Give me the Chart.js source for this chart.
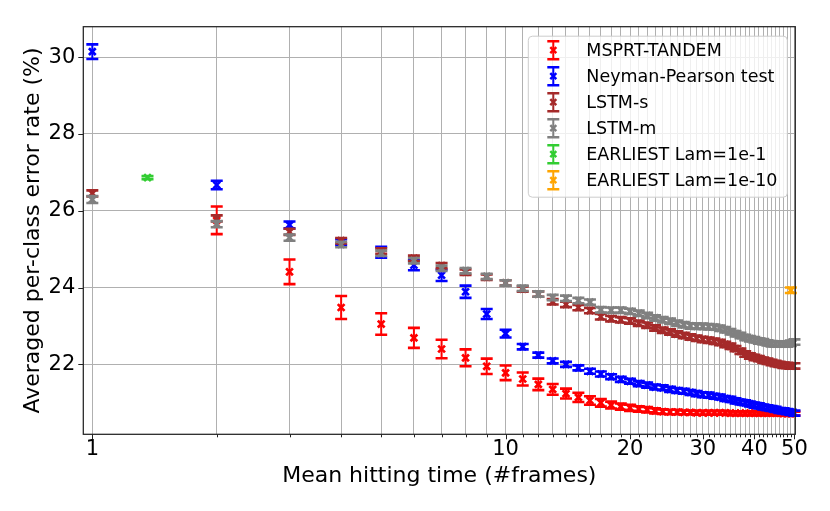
<!DOCTYPE html>
<html>
<head>
<meta charset="utf-8">
<script src="https://cdn.jsdelivr.net/npm/chart.js@4.4.0/dist/chart.umd.min.js"></script>
<style>
  html, body { margin: 0; padding: 0; background: #fff; }
  #wrap { width: 830px; height: 511px; }
</style>
</head>
<body>
<div id="wrap"><canvas id="chart" width="830" height="511"></canvas></div>
<script>
// mean hitting time (#frames)
const frames = [1, 2, 3, 4, 5, 6, 7, 8, 9, 10, 11, 12, 13, 14, 15, 16, 17, 18, 19, 20,
  21, 22, 23, 24, 25, 26, 27, 28, 29, 30, 31, 32, 33, 34, 35, 36, 37, 38, 39, 40,
  41, 42, 43, 44, 45, 46, 47, 48, 49, 50];
const tandemFrames = frames.slice(1);
const xLabels = [1, 10, 20, 30, 40, 50];
const yTicks = [22, 24, 26, 28, 30];

// MSPRT-TANDEM (starts at 2 frames)
const tandemMean = [25.75, 24.41, 23.48, 23.05, 22.69, 22.40, 22.17, 21.95, 21.78,
  21.62, 21.48, 21.35, 21.24, 21.14, 21.06, 21.00, 20.94, 20.90, 20.87,
  20.84, 20.82, 20.79, 20.77, 20.76, 20.76, 20.75, 20.75, 20.74, 20.74,
  20.74, 20.74, 20.74, 20.74, 20.73, 20.73, 20.73, 20.73, 20.73, 20.73,
  20.73, 20.73, 20.73, 20.73, 20.73, 20.73, 20.72, 20.72, 20.72, 20.72];
const tandemErr = [0.36, 0.32, 0.30, 0.28, 0.26, 0.24, 0.22, 0.20, 0.19,
  0.17, 0.15, 0.14, 0.13, 0.12, 0.11, 0.10, 0.09, 0.08, 0.08,
  0.07, 0.07, 0.07, 0.06, 0.06, 0.06, 0.05, 0.05, 0.05, 0.05,
  0.05, 0.05, 0.05, 0.05, 0.05, 0.05, 0.05, 0.05, 0.05, 0.05,
  0.05, 0.05, 0.05, 0.05, 0.05, 0.05, 0.05, 0.05, 0.05, 0.05];

// Neyman-Pearson test
const npMean = [30.14, 26.67, 25.63, 25.18, 24.92, 24.58, 24.32, 23.89, 23.31, 22.80,
  22.46, 22.24, 22.09, 22.00, 21.91, 21.82, 21.75, 21.68, 21.61, 21.56,
  21.50, 21.46, 21.41, 21.39, 21.35, 21.32, 21.30, 21.27, 21.24, 21.21,
  21.20, 21.17, 21.15, 21.11, 21.09, 21.05, 21.02, 21.00, 20.97, 20.94,
  20.92, 20.89, 20.87, 20.85, 20.83, 20.80, 20.79, 20.77, 20.75, 20.73];
const npErr = [0.19, 0.11, 0.09, 0.08, 0.14, 0.13, 0.15, 0.16, 0.13, 0.10,
  0.07, 0.065, 0.065, 0.065, 0.065, 0.065, 0.065, 0.065, 0.065, 0.065,
  0.065, 0.065, 0.065, 0.065, 0.065, 0.065, 0.065, 0.065, 0.065, 0.065,
  0.065, 0.065, 0.065, 0.065, 0.065, 0.065, 0.065, 0.065, 0.065, 0.065,
  0.065, 0.065, 0.065, 0.065, 0.065, 0.065, 0.065, 0.065, 0.065, 0.065];

// LSTM-s
const lstmSMean = [26.45, 25.80, 25.45, 25.22, 24.95, 24.76, 24.57, 24.40, 24.27, 24.12,
  23.96, 23.83, 23.63, 23.56, 23.48, 23.40, 23.24, 23.19, 23.16, 23.13,
  23.07, 23.02, 22.95, 22.89, 22.84, 22.79, 22.75, 22.71, 22.68, 22.65,
  22.63, 22.60, 22.57, 22.52, 22.47, 22.41, 22.34, 22.27, 22.22, 22.18,
  22.15, 22.11, 22.08, 22.05, 22.02, 22.00, 21.98, 21.97, 21.96, 21.96];
const lstmSErr = [0.08, 0.08, 0.08, 0.07, 0.07, 0.07, 0.07, 0.07, 0.07, 0.07,
  0.07, 0.07, 0.07, 0.07, 0.07, 0.07, 0.07, 0.07, 0.07, 0.07,
  0.07, 0.07, 0.07, 0.07, 0.07, 0.07, 0.07, 0.07, 0.07, 0.07,
  0.07, 0.07, 0.07, 0.07, 0.07, 0.07, 0.07, 0.07, 0.07, 0.07,
  0.07, 0.07, 0.07, 0.07, 0.07, 0.07, 0.07, 0.07, 0.07, 0.07];

// LSTM-m
const lstmMMean = [26.29, 25.65, 25.30, 25.12, 24.89, 24.70, 24.50, 24.44, 24.29, 24.12,
  23.98, 23.83, 23.74, 23.72, 23.66, 23.62, 23.42, 23.41, 23.41, 23.38,
  23.33, 23.27, 23.21, 23.16, 23.12, 23.07, 23.03, 23.00, 22.99, 22.99,
  22.98, 22.97, 22.94, 22.90, 22.85, 22.80, 22.75, 22.70, 22.67, 22.64,
  22.61, 22.59, 22.56, 22.54, 22.53, 22.53, 22.53, 22.53, 22.55, 22.58];
const lstmMErr = [0.09, 0.08, 0.08, 0.07, 0.07, 0.07, 0.07, 0.07, 0.07, 0.07,
  0.07, 0.07, 0.07, 0.07, 0.07, 0.07, 0.07, 0.07, 0.07, 0.07,
  0.07, 0.07, 0.07, 0.07, 0.07, 0.07, 0.07, 0.07, 0.07, 0.07,
  0.07, 0.07, 0.07, 0.07, 0.07, 0.07, 0.07, 0.07, 0.07, 0.07,
  0.07, 0.07, 0.07, 0.07, 0.07, 0.07, 0.07, 0.07, 0.07, 0.07];

// EARLIEST
const earliest1Frames = [1.36];
const earliest1Mean = [26.86];
const earliest1Err = [0.04];
const earliest10Frames = [49];
const earliest10Mean = [23.93];
const earliest10Err = [0.07];

const series = [
  { label: 'MSPRT-TANDEM', color: '#ff0000', xs: tandemFrames, ys: tandemMean, err: tandemErr },
  { label: 'Neyman-Pearson test', color: '#0000ff', xs: frames, ys: npMean, err: npErr },
  { label: 'LSTM-s', color: '#a52a2a', xs: frames, ys: lstmSMean, err: lstmSErr },
  { label: 'LSTM-m', color: '#808080', xs: frames, ys: lstmMMean, err: lstmMErr },
  { label: 'EARLIEST Lam=1e-1', color: '#32cd32', xs: earliest1Frames, ys: earliest1Mean, err: earliest1Err },
  { label: 'EARLIEST Lam=1e-10', color: '#ffa500', xs: earliest10Frames, ys: earliest10Mean, err: earliest10Err }
];

const FONT = 'DejaVu Sans';
const GRID = '#b0b0b0';
const INK = '#222';
const CAP = 6;

Chart.defaults.font.family = FONT;
Chart.defaults.color = '#000';

// error bars are drawn right before each dataset so later series sit on top
const errorBars = {
  id: 'errorBars',
  beforeDatasetDraw(chart, args) {
    const ds = chart.data.datasets[args.index];
    const xs = chart.scales.x, ys = chart.scales.y;
    const ctx = chart.ctx;
    ctx.save();
    ctx.strokeStyle = ds.borderColor;
    ds.data.forEach((p, i) => {
      const px = xs.getPixelForValue(p.x);
      const top = ys.getPixelForValue(p.y + ds.errors[i]);
      const bot = ys.getPixelForValue(p.y - ds.errors[i]);
      ctx.lineWidth = 2;
      ctx.beginPath();
      ctx.moveTo(px, top); ctx.lineTo(px, bot);
      ctx.stroke();
      ctx.lineWidth = 2.6;
      ctx.beginPath();
      ctx.moveTo(px - CAP, top); ctx.lineTo(px + CAP, top);
      ctx.moveTo(px - CAP, bot); ctx.lineTo(px + CAP, bot);
      ctx.stroke();
    });
    ctx.restore();
  }
};

// axes frame and tick marks (matplotlib style)
const frameTicks = {
  id: 'frameTicks',
  afterDatasetsDraw(chart) {
    const { ctx, chartArea: a } = chart;
    const xs = chart.scales.x, ys = chart.scales.y;
    ctx.save();
    ctx.strokeStyle = INK;
    ctx.lineWidth = 1;
    ctx.beginPath();
    frames.forEach(v => {
      const px = Math.round(xs.getPixelForValue(v)) + 0.5;
      const len = xLabels.includes(v) ? 5 : 3;
      ctx.moveTo(px, a.bottom); ctx.lineTo(px, a.bottom + len);
    });
    yTicks.forEach(v => {
      const py = Math.round(ys.getPixelForValue(v)) + 0.5;
      ctx.moveTo(a.left - 5, py); ctx.lineTo(a.left, py);
    });
    ctx.stroke();
    ctx.lineWidth = 1.25;
    ctx.strokeRect(a.left, a.top, a.right - a.left, a.bottom - a.top);
    ctx.restore();
  }
};

const legendBox = {
  id: 'legendBox',
  afterDraw(chart) {
    const { ctx, chartArea: a } = chart;
    const w = 259, h = 161;
    const x0 = a.right - 8 - w, y0 = a.top + 9.5;
    ctx.save();
    ctx.beginPath();
    if (ctx.roundRect) ctx.roundRect(x0, y0, w, h, 4); else ctx.rect(x0, y0, w, h);
    ctx.fillStyle = 'rgba(255,255,255,0.8)';
    ctx.fill();
    ctx.strokeStyle = '#cccccc';
    ctx.lineWidth = 1;
    ctx.stroke();
    ctx.font = '17.5px "' + FONT + '"';
    ctx.textBaseline = 'middle';
    ctx.textAlign = 'left';
    series.forEach((s, i) => {
      const cy = y0 + 14 + i * 26;
      const cx = x0 + 25;
      ctx.strokeStyle = s.color;
      ctx.lineWidth = 2;
      ctx.beginPath();
      ctx.moveTo(cx, cy - 9); ctx.lineTo(cx, cy + 9);
      ctx.stroke();
      ctx.lineWidth = 2.6;
      ctx.beginPath();
      ctx.moveTo(cx - CAP, cy - 9); ctx.lineTo(cx + CAP, cy - 9);
      ctx.moveTo(cx - CAP, cy + 9); ctx.lineTo(cx + CAP, cy + 9);
      ctx.stroke();
      ctx.lineWidth = 2.5;
      ctx.beginPath();
      ctx.moveTo(cx - 3, cy - 3); ctx.lineTo(cx + 3, cy + 3);
      ctx.moveTo(cx + 3, cy - 3); ctx.lineTo(cx - 3, cy + 3);
      ctx.stroke();
      ctx.fillStyle = '#000';
      ctx.fillText(s.label, x0 + 58, cy + 1);
    });
    ctx.restore();
  }
};

new Chart(document.getElementById('chart'), {
  type: 'scatter',
  data: {
    datasets: series.map((s, i) => ({
      label: s.label,
      data: s.xs.map((x, j) => ({ x: x, y: s.ys[j] })),
      errors: s.err,
      order: series.length - i,
      borderColor: s.color,
      backgroundColor: s.color,
      pointStyle: 'crossRot',
      pointRadius: 4.8,
      pointBorderWidth: 2.7,
      pointHoverRadius: 4.8
    }))
  },
  options: {
    responsive: false,
    animation: false,
    events: [],
    layout: { padding: { top: 26.7, right: 34.7, left: 0, bottom: 0 } },
    plugins: { legend: { display: false }, tooltip: { enabled: false } },
    scales: {
      x: {
        type: 'logarithmic',
        min: 0.951,
        max: 50.23,
        afterBuildTicks(scale) { scale.ticks = frames.map(v => ({ value: v })); },
        afterFit(scale) { scale.height = 76.7; },
        ticks: {
          autoSkip: false, minRotation: 0, maxRotation: 0, padding: 3,
          font: { size: 21 }, color: '#000',
          callback: v => (xLabels.includes(v) ? String(v) : '')
        },
        grid: { color: GRID, lineWidth: 1, drawTicks: false },
        border: { display: false },
        title: {
          display: true, text: 'Mean hitting time (#frames)',
          font: { size: 22 }, color: '#000', padding: { top: 0, bottom: 22 }
        }
      },
      y: {
        min: 20.18,
        max: 30.79,
        afterBuildTicks(scale) { scale.ticks = yTicks.map(v => ({ value: v })); },
        afterFit(scale) { scale.width = 83.3; },
        ticks: { padding: 8, font: { size: 21 }, color: '#000', callback: v => String(v) },
        grid: { color: GRID, lineWidth: 1, drawTicks: false },
        border: { display: false },
        title: {
          display: true, text: 'Averaged per-class error rate (%)',
          font: { size: 22 }, color: '#000', padding: { top: 20, bottom: 0 }
        }
      }
    }
  },
  plugins: [errorBars, frameTicks, legendBox]
});
</script>
</body>
</html>
